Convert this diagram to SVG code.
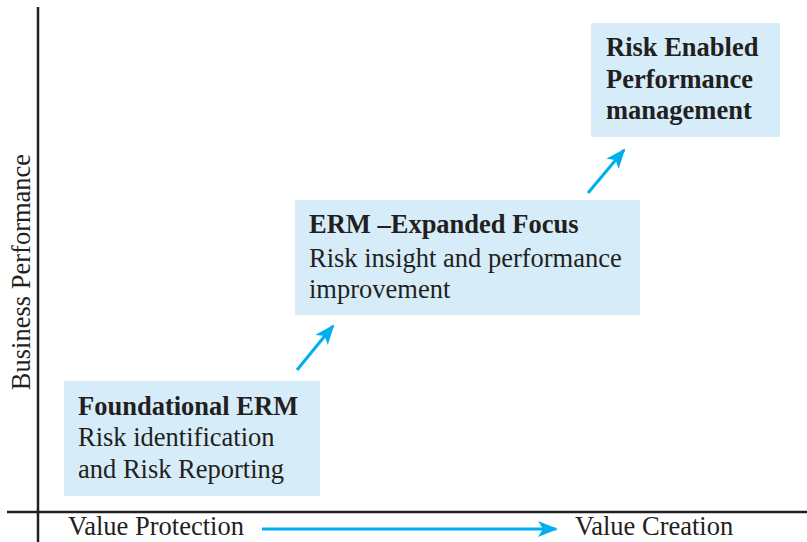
<svg xmlns="http://www.w3.org/2000/svg" width="807" height="542" viewBox="0 0 807 542">
<style>
.box{fill:#d6edf9}
.t{font-family:"Liberation Serif",serif;font-size:26.5px;fill:#231f20}
.b{font-weight:bold}
.ax{stroke:#231f20;stroke-width:2.5;fill:none}
.ar{stroke:#00aeef;stroke-width:3;fill:none}
</style>
<defs>
<marker id="ah2" markerWidth="20" markerHeight="16" refX="18" refY="8" orient="auto" markerUnits="userSpaceOnUse">
<path d="M0,0 L20,8 L0,16 L5,8 Z" fill="#00aeef"/>
</marker>
</defs>
<g id="axes">
<line class="ax" x1="38" y1="7" x2="38" y2="542"/>
<line class="ax" x1="7" y1="512" x2="807" y2="512"/>
<text class="t" transform="translate(30,272) rotate(-90)" text-anchor="middle">Business Performance</text>
<text class="t" x="68" y="535">Value Protection</text>
<text class="t" x="575" y="535">Value Creation</text>
</g>
<g id="n1">
<rect class="box" x="64" y="381" width="256" height="115"/>
<text class="t b" x="78" y="415">Foundational ERM</text>
<text class="t" x="78" y="446">Risk identification</text>
<text class="t" x="78" y="478">and Risk Reporting</text>
</g>
<g id="n2">
<rect class="box" x="295" y="200" width="345" height="115"/>
<text class="t b" x="309" y="233">ERM –Expanded Focus</text>
<text class="t" x="309" y="267">Risk insight and performance</text>
<text class="t" x="309" y="298">improvement</text>
</g>
<g id="n3">
<rect class="box" x="591" y="23" width="189" height="114"/>
<text class="t b" x="606" y="56">Risk Enabled</text>
<text class="t b" x="606" y="88">Performance</text>
<text class="t b" x="606" y="119">management</text>
</g>
<g id="connectors">
<line class="ar" x1="262" y1="529" x2="556" y2="529" marker-end="url(#ah2)"/>
<line class="ar" x1="297" y1="370" x2="333" y2="326" marker-end="url(#ah2)"/>
<line class="ar" x1="588" y1="193" x2="624" y2="150" marker-end="url(#ah2)"/>
</g>
</svg>
